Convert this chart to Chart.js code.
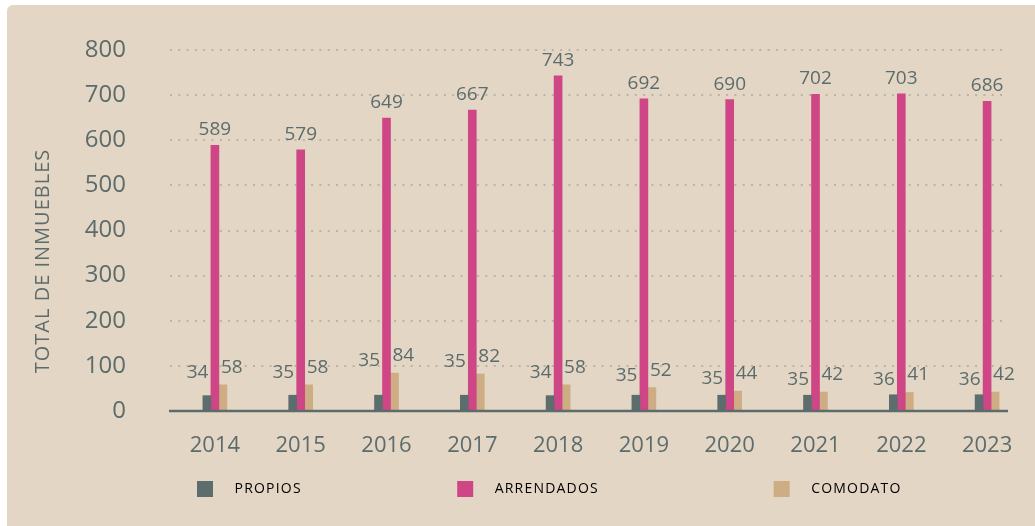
<!DOCTYPE html>
<html>
<head>
<meta charset="utf-8">
<script src="https://cdn.jsdelivr.net/npm/chart.js@4"></script>
<style>
  html, body { margin: 0; padding: 0; background: #ffffff; }
  #card {
    position: absolute; left: 7px; top: 5px; width: 1028px; height: 521px;
    background: #e4d6c4; border-top-left-radius: 6px;
  }
</style>
</head>
<body>
<div id="card"><canvas id="inmuebles-chart"></canvas></div>
<script>
const years = ["2014", "2015", "2016", "2017", "2018", "2019", "2020", "2021", "2022", "2023"];
const propios = [34, 35, 35, 35, 34, 35, 35, 35, 36, 36];
const arrendados = [589, 579, 649, 667, 743, 692, 690, 702, 703, 686];
const comodato = [58, 58, 84, 82, 58, 52, 44, 42, 41, 42];
const yTicks = [0, 100, 200, 300, 400, 500, 600, 700, 800];

const slate = "#5c6c6c";
const colors = { propios: "#5d6d6d", arrendados: "#cf4686", comodato: "#ceac84" };
const legendTail = [28, 32, 0];

Chart.defaults.font.family = "'Open Sans', sans-serif";
Chart.defaults.color = slate;

// dotted grid + base line, drawn only over the span used in the original
const gridPlugin = {
  id: "grid",
  beforeDatasetsDraw(chart) {
    const { ctx, chartArea, scales } = chart;
    ctx.letterSpacing = "0px";
    ctx.save();
    ctx.strokeStyle = "#bab3a7";
    ctx.lineWidth = 2;
    ctx.setLineDash([2, 6.3]);
    yTicks.forEach((v) => {
      if (v === 0) return;
      const y = Math.round(scales.y.getPixelForValue(v));
      ctx.beginPath();
      ctx.moveTo(chartArea.left - 2, y);
      ctx.lineTo(chartArea.right - 23, y);
      ctx.stroke();
    });
    ctx.restore();
  },
  afterDatasetsDraw(chart) {
    const { ctx, chartArea, scales } = chart;
    const y = scales.y.getPixelForValue(0);
    ctx.save();
    ctx.strokeStyle = slate;
    ctx.lineWidth = 2.5;
    ctx.beginPath();
    ctx.moveTo(chartArea.left - 3, y);
    ctx.lineTo(chartArea.right - 22, y);
    ctx.stroke();
    ctx.restore();
  },
};

// value labels: small series beside the tall bar, tall series on top
const labelPlugin = {
  id: "valueLabels",
  afterDatasetsDraw(chart) {
    const { ctx } = chart;
    const m0 = chart.getDatasetMeta(0).data;
    const m1 = chart.getDatasetMeta(1).data;
    const m2 = chart.getDatasetMeta(2).data;
    ctx.save();
    ctx.font = "19px 'Open Sans'";
    ctx.fillStyle = slate;
    ctx.textBaseline = "alphabetic";
    years.forEach((_, i) => {
      const top = Math.min(m0[i].y, m2[i].y);
      ctx.textAlign = "right";
      ctx.fillText(propios[i], m0[i].x + 1.5, top - 7);
      ctx.textAlign = "left";
      ctx.fillText(comodato[i], m2[i].x - 2, top - 12);
      ctx.textAlign = "center";
      ctx.fillText(arrendados[i], m1[i].x, m1[i].y - 10);
    });
    ctx.restore();
  },
};

const titlePlugin = {
  id: "yTitle",
  beforeDraw(chart) {
    // spaced caps for the legend (drawn before datasets)
    chart.ctx.letterSpacing = "1.2px";
  },
  afterLayout(chart) {
    chart.legend.left += 170;
    chart.legend.right += 170;
  },
  afterDraw(chart) {
    const { ctx } = chart;
    ctx.save();
    ctx.translate(36, 256);
    ctx.rotate(-Math.PI / 2);
    ctx.letterSpacing = "1px";
    ctx.font = "20px 'Open Sans'";
    ctx.fillStyle = slate;
    ctx.textAlign = "center";
    ctx.textBaseline = "middle";
    ctx.fillText("TOTAL DE INMUEBLES", 0, 0);
    ctx.restore();
    ctx.letterSpacing = "0px";
  },
};

new Chart(document.getElementById("inmuebles-chart"), {
  type: "bar",
  data: {
    labels: years,
    datasets: [
      { label: "PROPIOS", data: propios, backgroundColor: colors.propios },
      { label: "ARRENDADOS", data: arrendados, backgroundColor: colors.arrendados },
      { label: "COMODATO", data: comodato, backgroundColor: colors.comodato },
    ],
  },
  options: {
    responsive: true,
    maintainAspectRatio: false,
    animation: false,
    datasets: { bar: { barThickness: 8, borderWidth: 0 } },
    layout: { padding: { top: 45, right: 5, bottom: 19, left: 0 } },
    plugins: {
      tooltip: { enabled: false },
      legend: {
        position: "bottom",
        align: "start",
        labels: {
          boxWidth: 16,
          boxHeight: 16,
          padding: 20,
          font: { size: 14 },
          color: slate,
          generateLabels(chart) {
            return chart.data.datasets.map((ds, i) => ({
              text: "   " + ds.label + " ".repeat(legendTail[i]),
              fillStyle: ds.backgroundColor,
              strokeStyle: ds.backgroundColor,
              lineWidth: 0,
              datasetIndex: i,
            }));
          },
        },
      },
    },
    scales: {
      x: {
        grid: { display: false },
        border: { display: false },
        ticks: { padding: 14, font: { size: 22 }, color: slate, z: 1 },
        afterFit(scale) { scale.height = 50; },
      },
      y: {
        min: 0,
        max: 800,
        grid: { display: false, drawTicks: false },
        border: { display: false },
        ticks: { stepSize: 100, padding: 46, font: { size: 24 }, color: slate, z: 1 },
        afterFit(scale) {
          scale.width = 165;
          scale.paddingTop = 14;
          scale.paddingBottom = 14;
        },
      },
    },
  },
  plugins: [gridPlugin, labelPlugin, titlePlugin],
});
</script>
</body>
</html>
